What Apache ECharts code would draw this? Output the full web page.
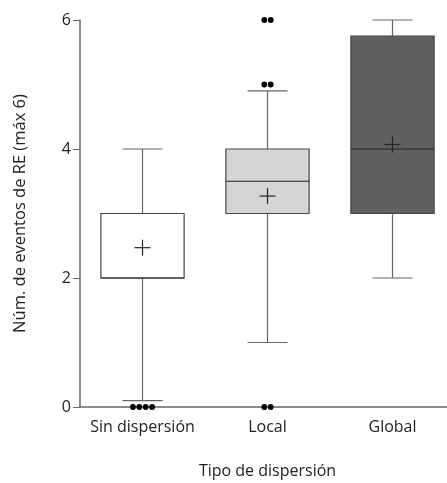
<!DOCTYPE html>
<html>
<head>
<meta charset="utf-8">
<script src="https://cdn.jsdelivr.net/npm/echarts@6/dist/echarts.min.js"></script>
<style>
  html, body { margin: 0; padding: 0; background: #fff; }
  #main { width: 447px; height: 483px; }
</style>
</head>
<body>
<div id="main"></div>
<script>
var categories = ['Sin dispersión', 'Local', 'Global'];
// [low whisker, Q1, median, Q3, high whisker]
var boxStats = [
    [0.1, 2, 2, 3, 4],
    [1, 3, 3.5, 4, 4.9],
    [2, 3, 4, 5.75, 6]
];
var means = [2.47, 3.27, 4.07];
var outliers = [
    [0, 0, 0, 0],
    [0, 0, 5, 5, 6, 6],
    []
];
var yTicks = [0, 2, 4, 6];

var boxFills = ['#ffffff', '#d4d5d5', '#606060'];
var font = '"Open Sans", "Noto Sans", sans-serif';

var boxData = [];
for (var i = 0; i < categories.length; i++) {
    boxData.push([i].concat(boxStats[i]).concat([means[i]]));
}

// spread outliers of the same value side by side
var outData = [];
for (var i = 0; i < outliers.length; i++) {
    var groups = {};
    outliers[i].forEach(function (v) { groups[v] = (groups[v] || 0) + 1; });
    Object.keys(groups).forEach(function (k) {
        var n = groups[k];
        for (var j = 0; j < n; j++) {
            outData.push([i, Number(k), j - (n - 1) / 2]);
        }
    });
}

var chart = echarts.init(document.getElementById('main'));

var option = {
    animation: false,
    grid: { left: 80, top: 20, width: 375, height: 387, outerBoundsMode: 'none', containLabel: false },
    xAxis: {
        type: 'category',
        data: categories,
        name: 'Tipo de dispersión',
        nameLocation: 'middle',
        nameGap: 56,
        nameTextStyle: { fontFamily: font, fontSize: 16, color: '#222' },
        axisLine: { lineStyle: { color: '#666', width: 1.5 } },
        axisTick: { alignWithLabel: true, length: 6, lineStyle: { color: '#666' } },
        axisLabel: { interval: 0, hideOverlap: false, fontFamily: font, fontSize: 16, color: '#222', margin: 12 },
        splitLine: { show: false }
    },
    yAxis: {
        type: 'value',
        min: yTicks[0],
        max: yTicks[yTicks.length - 1],
        interval: 2,
        name: 'Núm. de eventos de RE (máx 6)',
        nameLocation: 'middle',
        nameGap: 51,
        nameTextStyle: { fontFamily: font, fontSize: 16.5, color: '#222' },
        axisLine: { show: true, lineStyle: { color: '#666', width: 1.5 } },
        axisTick: { show: true, length: 7, lineStyle: { color: '#666' } },
        axisLabel: { fontFamily: font, fontSize: 16, color: '#222', margin: 9 },
        splitLine: { show: false }
    },
    series: [
        {
            type: 'custom',
            data: boxData,
            z: 2,
            renderItem: function (params, api) {
                var c = api.value(0);
                var pLow = api.coord([c, api.value(1)]);
                var pQ1 = api.coord([c, api.value(2)]);
                var pMed = api.coord([c, api.value(3)]);
                var pQ3 = api.coord([c, api.value(4)]);
                var pHigh = api.coord([c, api.value(5)]);
                var pMean = api.coord([c, api.value(6)]);
                var x = pLow[0];
                var hw = api.size([1, 0])[0] * 0.333;
                var cw = api.size([1, 0])[0] * 0.16;
                var line = { stroke: '#666', lineWidth: 1.2 };
                var dark = { stroke: '#222', lineWidth: 1.2 };
                return {
                    type: 'group',
                    children: [
                        { type: 'line', shape: { x1: x, y1: pLow[1], x2: x, y2: pQ1[1] }, style: line },
                        { type: 'line', shape: { x1: x, y1: pQ3[1], x2: x, y2: pHigh[1] }, style: line },
                        { type: 'line', shape: { x1: x - cw, y1: pLow[1], x2: x + cw, y2: pLow[1] }, style: line },
                        { type: 'line', shape: { x1: x - cw, y1: pHigh[1], x2: x + cw, y2: pHigh[1] }, style: line },
                        {
                            type: 'rect',
                            shape: { x: x - hw, y: pQ3[1], width: hw * 2, height: pQ1[1] - pQ3[1] },
                            style: { fill: boxFills[params.dataIndex], stroke: '#444', lineWidth: 1.2 }
                        },
                        { type: 'line', shape: { x1: x - hw, y1: pMed[1], x2: x + hw, y2: pMed[1] }, style: dark },
                        { type: 'line', shape: { x1: x - 8, y1: pMean[1], x2: x + 8, y2: pMean[1] }, style: dark },
                        { type: 'line', shape: { x1: x, y1: pMean[1] - 8, x2: x, y2: pMean[1] + 8 }, style: dark }
                    ]
                };
            }
        },
        {
            type: 'custom',
            data: outData,
            z: 3,
            clip: false,
            renderItem: function (params, api) {
                var p = api.coord([api.value(0), api.value(1)]);
                return {
                    type: 'circle',
                    shape: { cx: p[0] + api.value(2) * 6.4, cy: p[1], r: 2.9 },
                    style: { fill: '#000' }
                };
            }
        }
    ]
};

chart.setOption(option);
</script>
</body>
</html>
